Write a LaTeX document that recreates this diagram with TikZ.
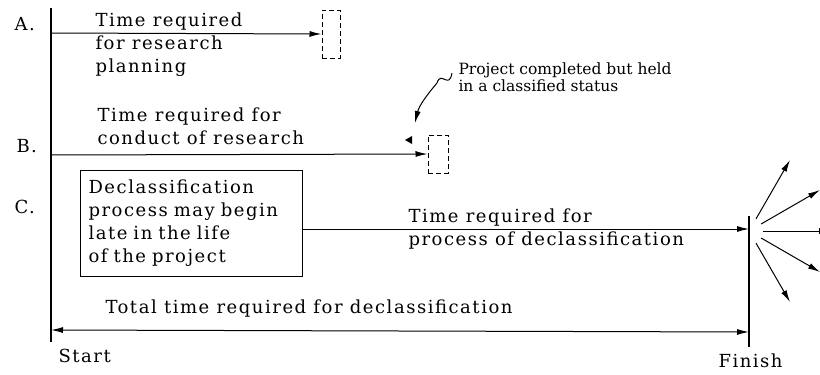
\documentclass[tikz,border=0pt]{standalone}
\usepackage{fontspec}
\setmainfont{DejaVu Serif}
\usetikzlibrary{arrows.meta}
\tikzset{
    txt/.style={font=\fontsize{18}{23}\selectfont\addfontfeatures{LetterSpace=8.5}, inner sep=0pt, align=left},
    smalltxt/.style={font=\fontsize{15.5}{17.5}\selectfont, inner sep=0pt, align=left},
    tip/.style={-{Latex[length=12pt, width=6pt]}},
    held/.style={draw, dash pattern=on 5pt off 3pt, inner sep=0pt},
}
\begin{document}
\begin{tikzpicture}[x=1pt, y=-1pt, line width=1pt]
    \useasboundingbox (0,0) rectangle (820,375);
    \coordinate (stTop) at (51,8);
    \coordinate (stBot) at (51,342);
    \coordinate (fnTop) at (749,216);
    \coordinate (fnBot) at (749,347);
    \draw[line width=1.6pt] (stTop) -- (stBot);
    \draw[line width=1.3pt] (fnTop) -- (fnBot);

    \node[txt, anchor=base west] (labA) at (14,30) {A.};
    \node[txt, anchor=base west] (labB) at (16,152) {B.};
    \node[txt, anchor=base west] (labC) at (14,213) {C.};

    \node[held, minimum width=18pt, minimum height=48pt] (boxA) at (331,34) {};
    \node[held, minimum width=20pt, minimum height=38pt] (boxB) at (438,154) {};
    \coordinate (goA) at (51,33);
    \coordinate (goB) at (51,155);
    \draw[tip] (goA) -- (boxA.west);
    \draw[tip] (goB) -- (boxB.west);
    \node[txt, anchor=north west] (txtA) at (95,12) {Time required\\for research\\planning};
    \node[txt, anchor=north west] (txtB) at (97,107) {Time required for\\conduct of research};

    \node[smalltxt, anchor=north west] (note) at (458,62)
        {Project completed but held\\in a classified status};
    \coordinate (curl) at (452,73);
    \coordinate (noteTip) at (415,123);
    \draw[tip] (curl) .. controls (449,90) and (441,70) .. (437,83)
        .. controls (426,96) and (419,106) .. (noteTip);
    \fill (405,140) -- (412,136) -- (412,144) -- cycle;

    \node[txt, draw, anchor=north west, minimum width=222pt, minimum height=106pt,
        text width=206pt, inner xsep=8pt] (boxC) at (80,170)
        {Declassification\\process may begin\\late in the life\\of the project};
    \coordinate (fnC) at (749,229);
    \draw[tip] (boxC.east |- fnC) -- (fnC);
    \node[txt, anchor=north west] (txtC) at (408,208)
        {Time required for\\process of declassification};

    \coordinate (burst) at (749,231);
    \foreach \ang in {-60,-30,0,30,60}
        \draw[tip] ([shift={(\ang:14)}]burst) -- ([shift={(\ang:82)}]burst);

    \coordinate (totL) at (51,330);
    \coordinate (totR) at (749,332);
    \draw[{Latex[length=12pt, width=6pt]}-{Latex[length=12pt, width=6pt]}] (totL) -- (totR);
    \node[txt, anchor=base west] (total) at (105,313) {Total time required for declassification};
    \node[txt, anchor=base west] (start) at (58,362) {Start};
    \node[txt, anchor=base west] (finish) at (718,367) {Finish};
\end{tikzpicture}
\end{document}
